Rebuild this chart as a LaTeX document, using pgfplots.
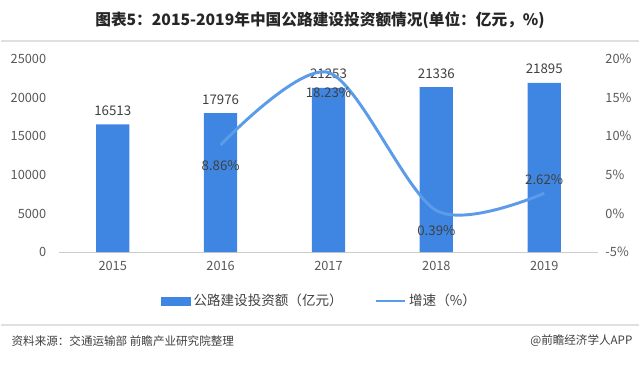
\documentclass[border=0pt]{standalone}
\usepackage{pgfplots}
\pgfplotsset{compat=1.18}
\usepackage{fontspec}
\setmainfont{Noto Sans CJK SC}
\definecolor{barcol}{HTML}{3F86E2}
\definecolor{linecol}{HTML}{5A9BEA}
\definecolor{txt}{HTML}{404040}
\definecolor{tick}{HTML}{595959}
\begin{document}
\begin{tikzpicture}[x=0.75pt,y=-0.75pt]
\path[fill=white] (0,0) rectangle (640,367);
\draw[black!12, line width=1.5pt] (0,41) -- (640,41);
\draw[black!12, line width=1.5pt] (0,326) -- (640,326);
\node[font=\fontsize{11.8}{13}\selectfont\bfseries, text=black!85] at (320,20) {图表5：2015-2019年中国公路建设投资额情况(单位：亿元，\%)};
\node[font=\fontsize{8.7}{10}\selectfont, text=txt, anchor=west] at (6,342) {资料来源：交通运输部 前瞻产业研究院整理};
\node[font=\fontsize{8.7}{10}\selectfont, text=txt, anchor=east] at (638,342) {@前瞻经济学人APP};
\coordinate (ax) at (58,253);
\begin{axis}[
  at={(ax)}, anchor=south west, scale only axis,
  width=405.75pt, height=145.5pt,
  xmin=-0.5, xmax=4.5, ymin=0, ymax=25000,
  scaled ticks=false,
  xtick={0,1,2,3,4}, xticklabels={2015,2016,2017,2018,2019},
  ytick={0,5000,10000,15000,20000,25000},
  axis x line*=bottom, axis y line*=left,
  x axis line style={draw=black!20, line width=0.8pt},
  y axis line style={draw=none},
  major tick length=0pt,
  tick label style={font=\fontsize{9.6}{11}\selectfont, text=tick},
  yticklabel style={xshift=-6pt},
  xticklabel style={yshift=-3pt},
  /pgf/number format/assume math mode=true,
  /pgf/number format/set thousands separator={},
  nodes near coords,
  every node near coord/.append style={font=\fontsize{10}{11}\selectfont, text=txt, yshift=3pt},
]
\addplot[ybar, bar width=25pt, fill=barcol, draw=none] coordinates {(0,16513) (1,17976) (2,21253) (3,21336) (4,21895)};
\end{axis}
\begin{axis}[
  at={(ax)}, anchor=south west, scale only axis,
  width=405.75pt, height=145.5pt,
  xmin=-0.5, xmax=4.5, ymin=-5, ymax=20,
  ytick={-5,0,5,10,15,20},
  yticklabel={\pgfmathprintnumber{\tick}\%},
  axis x line=none, axis y line*=right,
  y axis line style={draw=none},
  major tick length=0pt,
  tick label style={font=\fontsize{9.6}{11}\selectfont, text=tick},
  yticklabel style={xshift=2pt},
  /pgf/number format/assume math mode=true,
  legend style={draw=none, fill=none, at={(0.484,-0.253)}, anchor=center,
    font=\fontsize{10.2}{11}\selectfont, text=txt, legend columns=2,
    /tikz/every even column/.append style={column sep=22pt}},
]
\addlegendimage{legend image code/.code={\fill[barcol] (0pt,-3pt) rectangle (22pt,3pt);}}
\addlegendentry{公路建设投资额（亿元）}
\addplot[smooth, color=linecol, line width=2.2pt, mark=none,
  legend image code/.code={\draw[linecol, line width=2pt] (0pt,0pt) -- (22pt,0pt);}]
  coordinates {(1,8.86) (2,18.23) (3,0.39) (4,2.62)};
\addlegendentry{增速（\%）}
\node[font=\fontsize{10}{11}\selectfont, text=txt, anchor=north, yshift=-8pt] at (axis cs:1,8.86) {8.86\%};
\node[font=\fontsize{10}{11}\selectfont, text=txt, anchor=north, yshift=-8pt] at (axis cs:2,18.23) {18.23\%};
\node[font=\fontsize{10}{11}\selectfont, text=txt, anchor=north, yshift=-8pt] at (axis cs:3,0.39) {0.39\%};
\node[font=\fontsize{10}{11}\selectfont, text=txt, anchor=south, yshift=3pt] at (axis cs:4,2.62) {2.62\%};
\end{axis}
\end{tikzpicture}
\end{document}
